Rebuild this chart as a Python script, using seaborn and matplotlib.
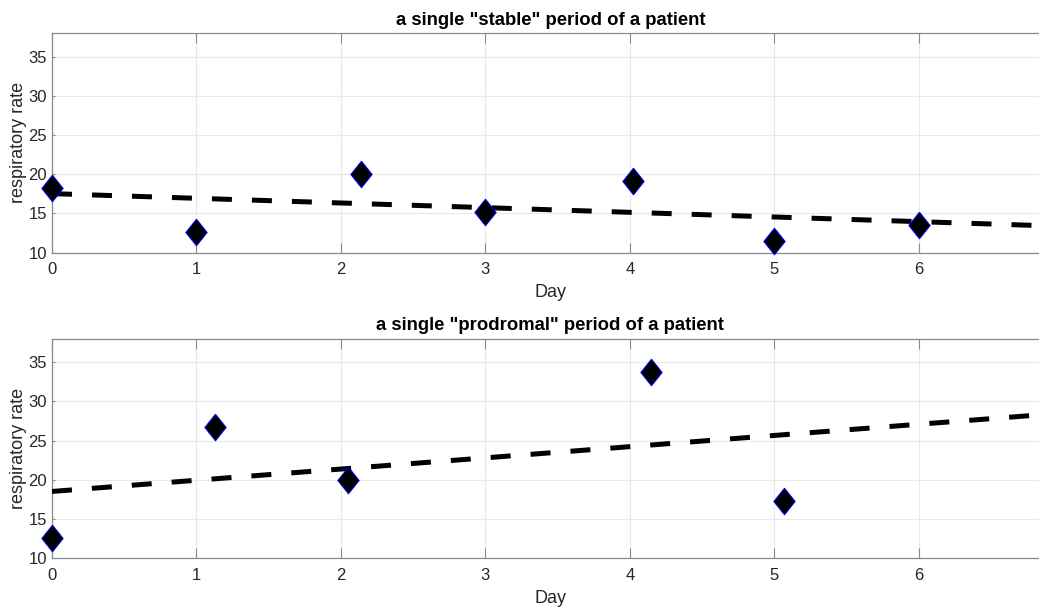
import numpy as np
import pandas as pd
import seaborn as sns
import matplotlib.pyplot as plt

# stable period
stable_day = [0, 1, 2.14, 3, 4.02, 5, 6]
stable_rate = [18.2, 12.6, 20.0, 15.2, 19.1, 11.5, 13.5]
# prodromal period
prodromal_day = [0, 1.13, 2.05, 4.15, 5.07]
prodromal_rate = [12.6, 26.7, 20.0, 33.7, 17.3]

titles = ['a single "stable" period of a patient',
          'a single "prodromal" period of a patient']
yticks = [10, 15, 20, 25, 30, 35]
xticks = [0, 1, 2, 3, 4, 5, 6]

sns.set_theme(style="whitegrid")
plt.rcParams['font.family'] = ['Liberation Sans', 'DejaVu Sans']
plt.rcParams['axes.edgecolor'] = '#8a8a8a'
plt.rcParams['grid.color'] = '#e8e8e8'

fig = plt.figure(figsize=(10.39, 6.08), dpi=100)
W, H = 1039, 608
ax_top = fig.add_axes([52 / W, 1 - 252.7 / H, 996.7 / W, 219.7 / H])
ax_bot = fig.add_axes([52 / W, 1 - 558.3 / H, 996.7 / W, 219.7 / H])

# MATLAB style diamond
diamond = [(0, 1), (0.8, 0), (0, -1), (-0.8, 0), (0, 1)]

for ax, days, rates, title in [(ax_top, stable_day, stable_rate, titles[0]),
                               (ax_bot, prodromal_day, prodromal_rate, titles[1])]:
    df = pd.DataFrame({'Day': days, 'rate': rates})
    ax.set_xlim(0, 6.9)
    ax.set_ylim(10, 38)
    # least squares trend line over the full axis range
    sns.regplot(data=df, x='Day', y='rate', ax=ax, scatter=False, ci=None,
                truncate=False, color='black',
                line_kws=dict(lw=3.6, linestyle=(0, (4, 4)), zorder=3,
                              solid_capstyle='butt', dash_capstyle='butt'))
    sns.scatterplot(data=df, x='Day', y='rate', ax=ax, marker=diamond, s=370,
                    color='black', edgecolor='#0000ff', linewidth=0.7,
                    zorder=4, clip_on=False)
    ax.set_xlim(0, 6.9)
    ax.set_ylim(10, 38)
    ax.set_xticks(xticks)
    ax.set_yticks(yticks)
    ax.set_xlabel('Day', fontsize=13, color='#262626', labelpad=5)
    ax.set_ylabel('respiratory rate', fontsize=13, color='#262626', labelpad=1)
    ax.set_title(title, fontsize=13.3, fontweight='bold', color='black', pad=6)
    ax.tick_params(axis='both', labelsize=12, labelcolor='#262626',
                   direction='in', color='#8a8a8a', width=0.8)
    ax.tick_params(axis='x', length=7, top=True, bottom=True, pad=7)
    ax.tick_params(axis='y', length=2.5, left=True, right=True, pad=3.5)
    for sp in ax.spines.values():
        sp.set_linewidth(0.9)
    ax.grid(True, lw=0.8)

fig.savefig('out.png', dpi=100)
